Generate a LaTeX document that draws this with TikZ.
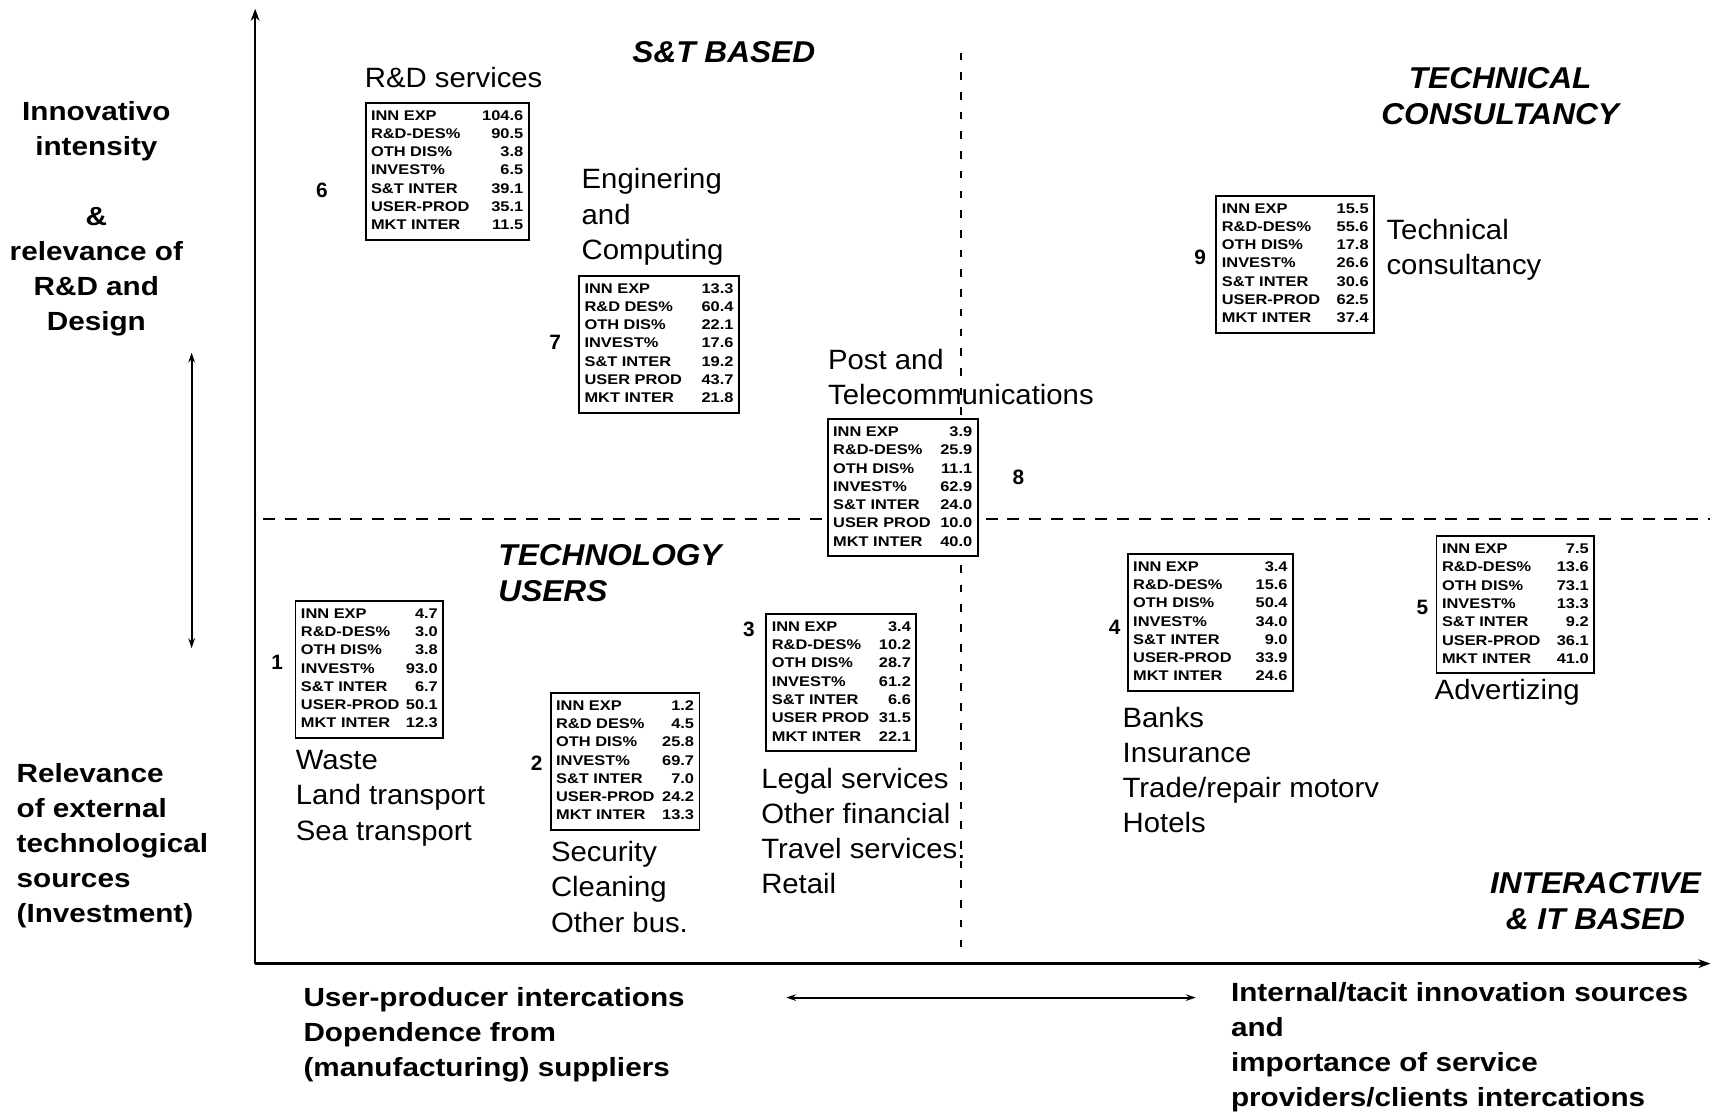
\documentclass[tikz,border=0pt]{standalone}
\usepackage{fontspec}
\setmainfont{Liberation Sans}
\newfontfamily\wideA[FakeStretch=1.13]{Liberation Sans}
\newfontfamily\wideB[FakeStretch=1.05]{Liberation Sans}
\newfontfamily\wideC[FakeStretch=1.17]{Liberation Sans}
\usetikzlibrary{arrows.meta}
\tikzset{
 databox/.style={draw, line width=1.7pt, fill=white, anchor=north west, inner xsep=5pt, inner ysep=4pt, font=\wideC\bfseries\fontsize{12.8}{16.7}\selectfont, minimum height=125pt},
 lab/.style={font=\wideB\fontsize{25.5}{32}\selectfont, align=left, anchor=west, inner sep=0pt},
 axlab/.style={font=\wideA\bfseries\fontsize{24}{32}\selectfont, inner sep=0pt},
 head/.style={font=\wideB\bfseries\itshape\fontsize{27.5}{33}\selectfont, inner sep=0pt},
 num/.style={font=\bfseries\fontsize{19}{20}\selectfont, inner sep=0pt},
 axisline/.style={line width=2.4pt, -{Stealth[length=11pt,width=8pt]}},
 dbl/.style={line width=1.7pt, {Stealth[length=9pt,width=6pt]}-{Stealth[length=9pt,width=6pt]}},
 hdiv/.style={line width=1.8pt, dash pattern=on 11pt off 9pt},
 vdiv/.style={line width=1.8pt, dash pattern=on 7pt off 11pt},
}
\newcommand{\tabw}[2]{\begin{tabular*}{\dimexpr#1pt-10pt\relax}{@{}l@{\extracolsep{\fill}}r@{}}#2\end{tabular*}}
\begin{document}
\begin{tikzpicture}[x=1pt,y=-1pt]
\useasboundingbox (0,0) rectangle (1568,1016);
% axes and dividers
\coordinate (O) at (233,880);
\coordinate (ytop) at (233,8);
\coordinate (xend) at (1562,880);
\coordinate (hl) at (240,474);
\coordinate (hr) at (1562,474);
\coordinate (vt) at (878,48);
\coordinate (vb) at (878,876);
\draw[hdiv] (hl) -- (hr);
\draw[vdiv] (vt) -- (vb);
\draw[axisline] (O) -- (ytop);
\draw[axisline] (O) -- (xend);
\coordinate (la) at (175,322);
\coordinate (lb) at (175,592);
\draw[dbl] (la) -- (lb);
\coordinate (ba) at (718,911);
\coordinate (bb) at (1092,911);
\draw[dbl] (ba) -- (bb);

% headings
\node[head] (hst) at (661,48) {S\&T BASED};
\node[head, align=center] (htc) at (1370,88) {TECHNICAL\\CONSULTANCY};
\node[head, align=left, anchor=west] (htu) at (455,523) {TECHNOLOGY\\USERS};
\node[head, align=center] (hia) at (1457,823) {INTERACTIVE\\\& IT BASED};

% axis labels
\node[axlab, align=center] (ylab1) at (88,200) {Innovativo\\intensity\\[32pt]\&\\relevance of\\R\&D and\\Design};
\node[axlab, align=left, anchor=west] (ylab2) at (15,772) {Relevance\\of external\\technological\\sources\\(Investment)};
\node[axlab, align=left, anchor=west] (xlab1) at (277,945) {User-producer intercations\\Dopendence from\\(manufacturing) suppliers};
\node[axlab, align=left, anchor=west] (xlab2) at (1124,956) {Internal/tacit innovation sources\\and\\importance of service\\providers/clients intercations};

% boxes
\node[databox, minimum width=149pt] (b6) at (333,93) {\tabw{149}{INN EXP & 104.6\\ R\&D-DES\% & 90.5\\ OTH DIS\% & 3.8\\ INVEST\% & 6.5\\ S\&T INTER & 39.1\\ USER-PROD & 35.1\\ MKT INTER & 11.5}};
\node[databox, minimum width=146pt] (b7) at (528,251) {\tabw{146}{INN EXP & 13.3\\ R\&D DES\% & 60.4\\ OTH DIS\% & 22.1\\ INVEST\% & 17.6\\ S\&T INTER & 19.2\\ USER PROD & 43.7\\ MKT INTER & 21.8}};
\node[databox, minimum width=137pt] (b8) at (755,382) {\tabw{137}{INN EXP & 3.9\\ R\&D-DES\% & 25.9\\ OTH DIS\% & 11.1\\ INVEST\% & 62.9\\ S\&T INTER & 24.0\\ USER PROD & 10.0\\ MKT INTER & 40.0}};
\node[databox, minimum width=144pt] (b9) at (1110,178) {\tabw{144}{INN EXP & 15.5\\ R\&D-DES\% & 55.6\\ OTH DIS\% & 17.8\\ INVEST\% & 26.6\\ S\&T INTER & 30.6\\ USER-PROD & 62.5\\ MKT INTER & 37.4}};
\node[databox, minimum width=135pt] (b1) at (269,548) {\tabw{135}{INN EXP & 4.7\\ R\&D-DES\% & 3.0\\ OTH DIS\% & 3.8\\ INVEST\% & 93.0\\ S\&T INTER & 6.7\\ USER-PROD & 50.1\\ MKT INTER & 12.3}};
\node[databox, minimum width=136pt] (b2) at (502,632) {\tabw{136}{INN EXP & 1.2\\ R\&D DES\% & 4.5\\ OTH DIS\% & 25.8\\ INVEST\% & 69.7\\ S\&T INTER & 7.0\\ USER-PROD & 24.2\\ MKT INTER & 13.3}};
\node[databox, minimum width=137pt] (b3) at (699,560) {\tabw{137}{INN EXP & 3.4\\ R\&D-DES\% & 10.2\\ OTH DIS\% & 28.7\\ INVEST\% & 61.2\\ S\&T INTER & 6.6\\ USER PROD & 31.5\\ MKT INTER & 22.1}};
\node[databox, minimum width=151pt] (b4) at (1029,505) {\tabw{151}{INN EXP & 3.4\\ R\&D-DES\% & 15.6\\ OTH DIS\% & 50.4\\ INVEST\% & 34.0\\ S\&T INTER & 9.0\\ USER-PROD & 33.9\\ MKT INTER & 24.6}};
\node[databox, minimum width=144pt] (b5) at (1311,489) {\tabw{144}{INN EXP & 7.5\\ R\&D-DES\% & 13.6\\ OTH DIS\% & 73.1\\ INVEST\% & 13.3\\ S\&T INTER & 9.2\\ USER-PROD & 36.1\\ MKT INTER & 41.0}};

% numbers
\node[num] (n6) at (294,174) {6};
\node[num] (n7) at (507,313) {7};
\node[num] (n8) at (930,436) {8};
\node[num] (n9) at (1096,235) {9};
\node[num] (n1) at (253,605) {1};
\node[num] (n2) at (490,697) {2};
\node[num] (n3) at (684,575) {3};
\node[num] (n4) at (1018,573) {4};
\node[num] (n5) at (1299,555) {5};

% sector labels
\node[lab] (t6) at (333,71) {R\&D services};
\node[lab] (t7) at (531,198) {Enginering\\and\\Computing};
\node[lab] (t8) at (756,344) {Post and\\Telecommunications};
\node[lab] (t9) at (1266,228) {Technical\\consultancy};
\node[lab] (t1) at (270,729) {Waste\\Land transport\\Sea transport};
\node[lab] (t2) at (503,810) {Security\\Cleaning\\Other bus.};
\node[lab] (t3) at (695,759) {Legal services\\Other financial\\Travel services.\\Retail};
\node[lab] (t4) at (1025,703) {Banks\\Insurance\\Trade/repair motorv\\Hotels};
\node[lab] (t5) at (1310,632) {Advertizing};
\end{tikzpicture}
\end{document}
